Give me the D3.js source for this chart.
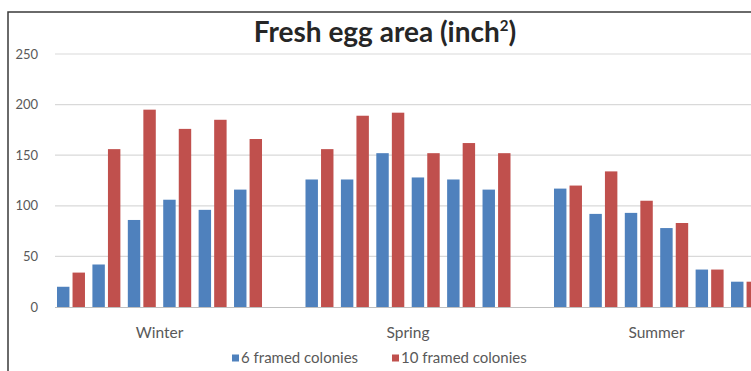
<!DOCTYPE html>
<html>
<head>
<meta charset="utf-8">
<script src="https://cdn.jsdelivr.net/npm/d3@7"></script>
<style>
  html, body { margin: 0; padding: 0; background: #fff; overflow: hidden; }
  svg { display: block; }
</style>
</head>
<body>
<svg id="chart" width="751" height="371"></svg>
<script>
// Fresh egg area per colony, by season
const seasons = ["Winter", "Spring", "Summer"];
const seriesNames = ["6 framed colonies", "10 framed colonies"];
const colonies = [0, 1, 2, 3, 4, 5];

const sixFramedWinter = [20, 42, 86, 106, 96, 116];
const sixFramedSpring = [126, 126, 152, 128, 126, 116];
const sixFramedSummer = [117, 92, 93, 78, 37, 25];

const tenFramedWinter = [34, 156, 195, 176, 185, 166];
const tenFramedSpring = [156, 189, 192, 152, 162, 152];
const tenFramedSummer = [120, 134, 105, 83, 37, 25];

const yTicks = [0, 50, 100, 150, 200, 250];
const colors = ["#4F81BD", "#C0504D"];

const bySeason = {
  Winter: [sixFramedWinter, tenFramedWinter],
  Spring: [sixFramedSpring, tenFramedSpring],
  Summer: [sixFramedSummer, tenFramedSummer]
};

const rows = [];
seasons.forEach(s => {
  colonies.forEach(c => {
    [0, 1].forEach(k => rows.push({ season: s, colony: c, series: k, value: bySeason[s][k][c] }));
  });
});

const svg = d3.select("#chart");
const W = 751;
const font = "Lato, 'Open Sans', 'Liberation Sans', sans-serif";

// outer frame
svg.append("rect")
  .attr("x", 8).attr("y", 12)
  .attr("width", 900).attr("height", 500)
  .attr("fill", "#fff")
  .attr("stroke", "#3a3a3a").attr("stroke-width", 1.5);

// scales
const x0 = d3.scaleBand().domain(seasons).range([57, 759]).paddingInner(0.175).paddingOuter(0);
const x1 = d3.scaleBand().domain(colonies).range([0, x0.bandwidth()]).paddingInner(0.21).paddingOuter(0);
const x2 = d3.scaleBand().domain([0, 1]).range([0, x1.bandwidth()]).paddingInner(0.2).paddingOuter(0);
const y = d3.scaleLinear().domain([0, 250]).range([307, 54]);

// gridlines
svg.append("g")
  .selectAll("line")
  .data(yTicks.filter(t => t > 0))
  .join("line")
  .attr("x1", 55).attr("x2", W + 20)
  .attr("y1", d => y(d)).attr("y2", d => y(d))
  .attr("stroke", "#d9d9d9").attr("stroke-width", 1.2);

// y axis labels
const yAxis = d3.axisLeft(y).tickValues(yTicks).tickSize(0).tickPadding(0);
const gy = svg.append("g").attr("transform", "translate(38,0)").call(yAxis);
gy.select(".domain").remove();
gy.selectAll("text")
  .attr("font-family", font).attr("font-size", 13)
  .attr("fill", "#595959");

// bars
svg.append("g")
  .selectAll("rect")
  .data(rows)
  .join("rect")
  .attr("x", d => x0(d.season) + x1(d.colony) + x2(d.series))
  .attr("width", x2.bandwidth())
  .attr("y", d => y(d.value))
  .attr("height", d => y(0) - y(d.value))
  .attr("fill", d => colors[d.series]);

// baseline / category axis
const xAxis = d3.axisBottom(x0).tickSize(0).tickPadding(20);
const gx = svg.append("g").attr("transform", `translate(0,${y(0)})`).call(xAxis);
gx.select(".domain").remove();
gx.append("line")
  .attr("x1", 55).attr("x2", W + 20)
  .attr("y1", 0.5).attr("y2", 0.5)
  .attr("stroke", "#bfbfbf").attr("stroke-width", 1);
gx.selectAll("text")
  .attr("font-family", font).attr("font-size", 15.5)
  .attr("fill", "#595959");

// title
const title = svg.append("text")
  .attr("x", 385).attr("y", 42)
  .attr("text-anchor", "middle")
  .attr("font-family", font).attr("font-weight", "bold")
  .attr("font-size", 28).attr("fill", "#262626");
title.append("tspan").text("Fresh egg area (inch");
title.append("tspan").attr("font-size", 15).attr("dy", -11).text("2");
title.append("tspan").attr("dy", 11).text(")");

// legend
const legendX = [232, 392];
const lg = svg.append("g").selectAll("g").data(seriesNames).join("g")
  .attr("transform", (d, i) => `translate(${legendX[i]},358)`);
lg.append("rect").attr("x", 0).attr("y", -3.5).attr("width", 7).attr("height", 7)
  .attr("fill", (d, i) => colors[i]);
lg.append("text").attr("x", 9).attr("y", 5)
  .attr("font-family", font).attr("font-size", 15).attr("fill", "#595959")
  .text(d => d);
</script>
</body>
</html>
